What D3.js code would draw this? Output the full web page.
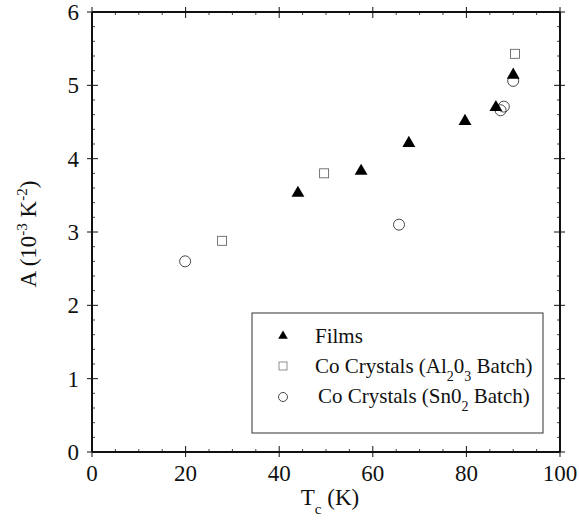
<!DOCTYPE html>
<html>
<head>
<meta charset="utf-8">
<script src="https://cdn.jsdelivr.net/npm/d3@7"></script>
<style>
  body { margin: 0; background: #fff; }
  svg { display: block; }
</style>
</head>
<body>
<svg id="chart" width="579" height="525" font-family="'Liberation Serif', 'DejaVu Serif', serif"></svg>
<script>
// ---- data ----
const filmsTc = [44.0, 57.5, 67.7, 79.7, 86.3, 90.0];
const filmsA  = [3.53, 3.83, 4.21, 4.51, 4.70, 5.14];
const alTc = [27.8, 49.6, 90.4];
const alA  = [2.88, 3.80, 5.43];
const snTc = [19.9, 65.6, 87.3, 88.0, 90.0];
const snA  = [2.60, 3.10, 4.66, 4.71, 5.06];
const xTicks = [0, 20, 40, 60, 80, 100];
const yTicks = [0, 1, 2, 3, 4, 5, 6];

const FONT = "Liberation Serif, DejaVu Serif, serif";
const svg = d3.select("#chart");
const x = d3.scaleLinear().domain([0, 100]).range([92, 560]);
const y = d3.scaleLinear().domain([0, 6]).range([452, 12]);

const xMinor = d3.range(0, 101, 5).filter(v => v % 20 !== 0);
const yMinor = d3.range(0, 6.001, 0.2).map(v => +v.toFixed(1)).filter(v => Math.abs(v - Math.round(v)) > 1e-6);

const g = svg.append("g");
const stroke = "#111";
const txt = (sel) => sel.attr("font-family", FONT).attr("fill", "#111");

yTicks.forEach(v => {
  g.append("line").attr("x1", x(0) - 5).attr("x2", x(0) + 6).attr("y1", y(v)).attr("y2", y(v)).attr("stroke", stroke).attr("stroke-width", 1);
  g.append("line").attr("x1", x(100) - 6).attr("x2", x(100) + 5).attr("y1", y(v)).attr("y2", y(v)).attr("stroke", stroke).attr("stroke-width", 1);
});
yMinor.forEach(v => {
  g.append("line").attr("x1", x(0)).attr("x2", x(0) + 3).attr("y1", y(v)).attr("y2", y(v)).attr("stroke", stroke).attr("stroke-width", 0.8);
  g.append("line").attr("x1", x(100) - 3).attr("x2", x(100)).attr("y1", y(v)).attr("y2", y(v)).attr("stroke", stroke).attr("stroke-width", 0.8);
});
xTicks.forEach(v => {
  g.append("line").attr("x1", x(v)).attr("x2", x(v)).attr("y1", y(0) - 6).attr("y2", y(0) + 5).attr("stroke", stroke).attr("stroke-width", 1);
  g.append("line").attr("x1", x(v)).attr("x2", x(v)).attr("y1", y(6) - 5).attr("y2", y(6) + 6).attr("stroke", stroke).attr("stroke-width", 1);
});
xMinor.forEach(v => {
  g.append("line").attr("x1", x(v)).attr("x2", x(v)).attr("y1", y(0) - 3).attr("y2", y(0)).attr("stroke", stroke).attr("stroke-width", 0.8);
  g.append("line").attr("x1", x(v)).attr("x2", x(v)).attr("y1", y(6)).attr("y2", y(6) + 3).attr("stroke", stroke).attr("stroke-width", 0.8);
});

g.append("line").attr("x1", x(0)).attr("x2", x(0)).attr("y1", y(0)).attr("y2", y(6)).attr("stroke", stroke).attr("stroke-width", 2);
g.append("line").attr("x1", x(0)).attr("x2", x(100)).attr("y1", y(0)).attr("y2", y(0)).attr("stroke", stroke).attr("stroke-width", 2.2);
g.append("line").attr("x1", x(0)).attr("x2", x(100)).attr("y1", y(6)).attr("y2", y(6)).attr("stroke", stroke).attr("stroke-width", 2);
g.append("line").attr("x1", x(100)).attr("x2", x(100)).attr("y1", y(0)).attr("y2", y(6)).attr("stroke", stroke).attr("stroke-width", 2);

yTicks.forEach(v => {
  txt(g.append("text")).attr("x", x(0) - 13).attr("y", y(v)).attr("dy", "0.35em")
    .attr("text-anchor", "end").attr("font-size", 23).text(v);
});
xTicks.forEach(v => {
  txt(g.append("text")).attr("x", x(v)).attr("y", y(0) + 29)
    .attr("text-anchor", "middle").attr("font-size", 23).text(v);
});

const xt = txt(g.append("text")).attr("x", 330).attr("y", 505).attr("text-anchor", "middle").attr("font-size", 23);
xt.append("tspan").text("T");
xt.append("tspan").attr("font-size", 15).attr("dy", 9).text("c");
xt.append("tspan").attr("dy", -9).text(" (K)");

const yt = txt(g.append("text")).attr("transform", "translate(36,234) rotate(-90)").attr("text-anchor", "middle").attr("font-size", 23);
yt.append("tspan").text("A (10");
yt.append("tspan").attr("font-size", 15).attr("dy", -9).text("-3");
yt.append("tspan").attr("dy", 9).text(" K");
yt.append("tspan").attr("font-size", 15).attr("dy", -9).text("-2");
yt.append("tspan").attr("dy", 9).text(")");

const tri = d3.symbol().type(d3.symbolTriangle).size(72);
const data = (xs, ys) => xs.map((v, i) => [v, ys[i]]);

g.selectAll(".sn").data(data(snTc, snA)).join("circle")
  .attr("cx", d => x(d[0])).attr("cy", d => y(d[1])).attr("r", 5.5)
  .attr("fill", "none").attr("stroke", "#333").attr("stroke-width", 0.9);
g.selectAll(".al").data(data(alTc, alA)).join("rect")
  .attr("x", d => x(d[0]) - 4.5).attr("y", d => y(d[1]) - 4.5).attr("width", 9).attr("height", 9)
  .attr("fill", "none").attr("stroke", "#555").attr("stroke-width", 0.8);
g.selectAll(".fi").data(data(filmsTc, filmsA)).join("path")
  .attr("d", tri).attr("transform", d => `translate(${x(d[0])},${y(d[1])})`).attr("fill", "#000");

g.append("rect").attr("x", 252).attr("y", 313).attr("width", 291).attr("height", 120)
  .attr("fill", "#fff").attr("stroke", "#333").attr("stroke-width", 1);
const lx = 283;
g.append("path").attr("d", d3.symbol().type(d3.symbolTriangle).size(40)).attr("transform", `translate(${lx},336)`).attr("fill", "#000");
g.append("rect").attr("x", lx - 4).attr("y", 362).attr("width", 8).attr("height", 8).attr("fill", "none").attr("stroke", "#777").attr("stroke-width", 0.8);
g.append("circle").attr("cx", lx).attr("cy", 397).attr("r", 4.5).attr("fill", "none").attr("stroke", "#333").attr("stroke-width", 0.9);

txt(g.append("text")).attr("x", 315).attr("y", 343).attr("font-size", 21).text("Films");
const l2 = txt(g.append("text")).attr("x", 315).attr("y", 373).attr("font-size", 21);
l2.append("tspan").text("Co Crystals (Al");
l2.append("tspan").attr("font-size", 14).attr("dy", 8).text("2");
l2.append("tspan").attr("dy", -8).text("0");
l2.append("tspan").attr("font-size", 14).attr("dy", 8).text("3");
l2.append("tspan").attr("dy", -8).text(" Batch)");
const l3 = txt(g.append("text")).attr("x", 318).attr("y", 403).attr("font-size", 21);
l3.append("tspan").text("Co Crystals (Sn0");
l3.append("tspan").attr("font-size", 14).attr("dy", 8).text("2");
l3.append("tspan").attr("dy", -8).text(" Batch)");
</script>
</body>
</html>
